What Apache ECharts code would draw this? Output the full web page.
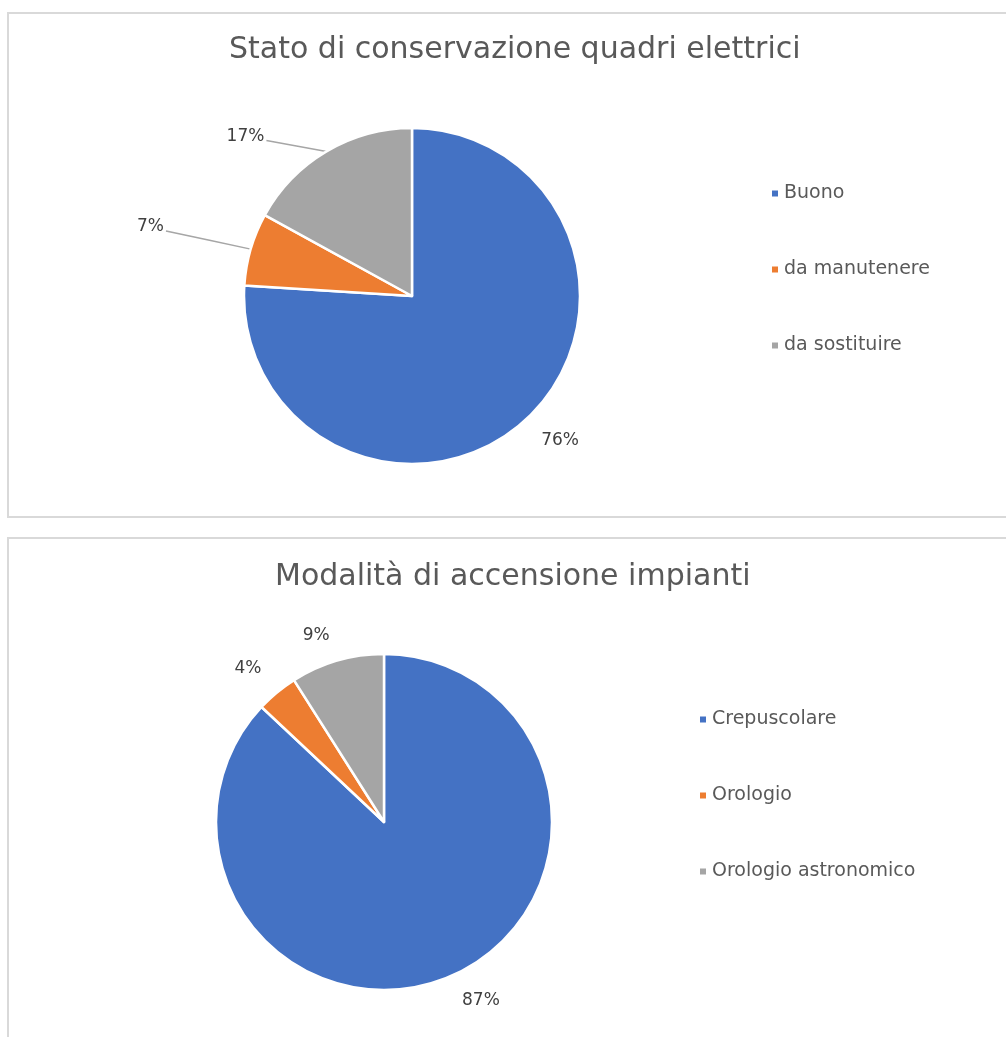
<!DOCTYPE html>
<html>
<head>
<meta charset="utf-8">
<title>Quadri elettrici</title>
<script src="https://cdn.jsdelivr.net/npm/echarts@6/dist/echarts.min.js"></script>
<style>
  html, body { margin: 0; padding: 0; background: #fff; }
  #chart { width: 1006px; height: 1037px; }
</style>
</head>
<body>
<div id="chart"></div>
<script>
// data
var statoTitle = 'Stato di conservazione quadri elettrici';
var statoCategories = ['Buono', 'da manutenere', 'da sostituire'];
var statoValues = [76, 7, 17];

var accensioneTitle = 'Modalità di accensione impianti';
var accensioneCategories = ['Crepuscolare', 'Orologio', 'Orologio astronomico'];
var accensioneValues = [87, 4, 9];

var colors = ['#4472C4', '#ED7D31', '#A5A5A5'];
var fontName = '"DejaVu Sans", sans-serif';

// label placement per slice: [length, length2, show line]
var statoLabelLines = [[28, 0, false], [8, 75, true], [8, 50, true]];
var accensioneLabelLines = [[26, 0, false], [32, 0, false], [27, 0, false]];
// small nudges of the labels, [dx, dy]
var statoLabelShift = [[-7, 2], [-2, -20], [-6, -8]];
var accensioneLabelShift = [[-1, 1], [7, 1], [2, 1]];

function buildData(cats, vals, lines) {
    var out = [];
    for (var i = 0; i < cats.length; i++) {
        out.push({
            name: cats[i],
            value: vals[i],
            itemStyle: { color: colors[i] },
            labelLine: {
                show: lines[i][2],
                length: lines[i][0],
                length2: lines[i][1],
                lineStyle: { color: '#a6a6a6', width: 1.5 }
            }
        });
    }
    return out;
}

function pieSeries(name, center, data, shift) {
    return {
        name: name,
        type: 'pie',
        center: center,
        radius: 168,
        startAngle: 90,
        clockwise: true,
        avoidLabelOverlap: false,
        itemStyle: { borderColor: '#fff', borderWidth: 2.5 },
        label: {
            show: true,
            position: 'outside',
            distanceToLabelLine: 2,
            color: '#404040',
            fontSize: 17,
            fontFamily: fontName,
            formatter: function (p) {
                return Math.round(p.percent) + '%';
            }
        },
        labelLayout: function (p) {
            var s = shift[p.dataIndex];
            var res = { dx: s[0], dy: s[1] };
            var pts = p.labelLinePoints;
            if (pts && pts.length) {
                // straight leader from the slice edge to the moved label
                var a = pts[0];
                var b = pts[pts.length - 1];
                var end = [b[0] + s[0], b[1] + s[1] + 4];
                res.labelLinePoints = [a, [(a[0] + end[0]) / 2, (a[1] + end[1]) / 2], end];
            }
            return res;
        },
        emphasis: { disabled: true },
        data: data
    };
}

var titleStyle = { color: '#595959', fontSize: 30, fontWeight: 'normal', fontFamily: fontName };
var legendText = { color: '#595959', fontSize: 19, lineHeight: 19, fontFamily: fontName };

var chart = echarts.init(document.getElementById('chart'));
var option = {
    animation: false,
    color: colors,
    graphic: [
        {
            type: 'rect',
            shape: { x: 8, y: 13, width: 1030, height: 504 },
            style: { fill: 'none', stroke: '#d9d9d9', lineWidth: 2 }
        },
        {
            type: 'rect',
            shape: { x: 8, y: 538, width: 1030, height: 540 },
            style: { fill: 'none', stroke: '#d9d9d9', lineWidth: 2 }
        }
    ],
    title: [
        {
            text: statoTitle,
            left: 224,
            top: 30,
            textStyle: titleStyle
        },
        {
            text: accensioneTitle,
            left: 270,
            top: 557,
            textStyle: titleStyle
        }
    ],
    legend: [
        {
            data: statoCategories,
            orient: 'vertical',
            left: 765,
            top: 179,
            icon: 'rect',
            itemWidth: 8,
            itemHeight: 8,
            itemGap: 57,
            textStyle: legendText
        },
        {
            data: accensioneCategories,
            orient: 'vertical',
            left: 693,
            top: 705,
            icon: 'rect',
            itemWidth: 8,
            itemHeight: 8,
            itemGap: 57,
            textStyle: legendText
        }
    ],
    series: [
        pieSeries('Stato', [412, 296], buildData(statoCategories, statoValues, statoLabelLines), statoLabelShift),
        pieSeries('Accensione', [384, 822], buildData(accensioneCategories, accensioneValues, accensioneLabelLines), accensioneLabelShift)
    ]
};
chart.setOption(option);
</script>
</body>
</html>
